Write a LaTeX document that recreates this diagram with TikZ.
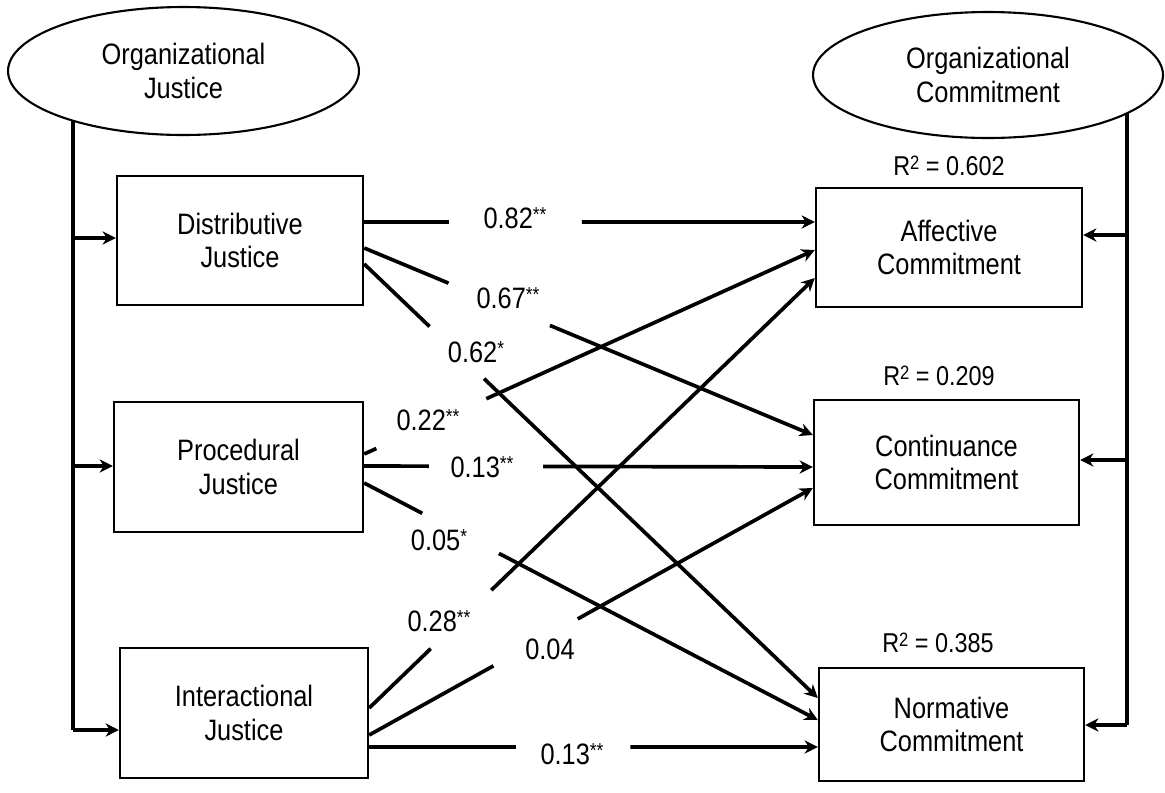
\documentclass[tikz,border=0pt]{standalone}
\usepackage{fontspec}
\setmainfont{Liberation Sans}[FakeStretch=0.86]
\usetikzlibrary{arrows.meta,calc,shapes.geometric}
% small raised marks for significance stars and the R-squared exponent
\newcommand{\signif}[1]{\raisebox{3.6pt}{\fontsize{11.5}{11.5}\selectfont #1}}
\newcommand{\rexp}[1]{\raisebox{3.2pt}{\fontsize{11}{11}\selectfont #1}}
\begin{document}
\begin{tikzpicture}[x=0.02cm,y=-0.02cm,
  every node/.style={font=\fontsize{16.8}{19.2}\selectfont},
  box/.style={draw,line width=1.4pt,rectangle,inner sep=0pt,align=center},
  latent/.style={draw,ellipse,line width=1.2pt,fill=white,inner sep=0pt,align=center},
  link/.style={line width=2.1pt},
  arrowlink/.style={line width=2.1pt,-{Stealth[length=7.5pt,width=7.5pt,inset=2.4pt]}},
  bracket/.style={line width=2.4pt},
  coef/.style={inner sep=0pt,anchor=base},
  rsq/.style={font=\fontsize{15.5}{18}\selectfont,inner sep=0pt,anchor=base}]

\useasboundingbox (0,0) rectangle (1165,792);

% dimension boxes
\node[box,minimum width=4.92cm,minimum height=2.58cm] (DJ) at (240,240.5) {Distributive\\Justice};
\node[box,minimum width=4.98cm,minimum height=2.60cm] (PJ) at (238.5,467) {Procedural\\Justice};
\node[box,minimum width=4.96cm,minimum height=2.60cm] (IJ) at (244,713) {Interactional\\Justice};
\node[box,minimum width=5.32cm,minimum height=2.38cm] (AC) at (949,247.5) {Affective\\Commitment};
\node[box,minimum width=5.30cm,minimum height=2.50cm] (CC) at (946.5,462.5) {Continuance\\Commitment};
\node[box,minimum width=5.30cm,minimum height=2.26cm] (NC) at (951.5,724.5) {Normative\\Commitment};

% left bracket from the justice construct
\coordinate (Ltop) at (73,71);
\coordinate (L1) at (73,238);
\coordinate (L2) at (73,466);
\coordinate (L3) at (73,730);
\draw[bracket] (Ltop) -- (L3);
\draw[arrowlink] (L3) -- (L3 -| IJ.west);
\draw[arrowlink] (L1) -- (L1 -| DJ.west);
\draw[arrowlink] (L2) -- (L2 -| PJ.west);

% right bracket from the commitment construct
\coordinate (Rtop) at (1127,75);
\coordinate (R1) at (1127,235);
\coordinate (R2) at (1127,460);
\coordinate (R3) at (1127,725);
\draw[bracket] (Rtop) -- (R3);
\draw[arrowlink] (R3) -- (R3 -| NC.east);
\draw[arrowlink] (R1) -- (R1 -| AC.east);
\draw[arrowlink] (R2) -- (R2 -| CC.east);

% latent constructs
\node[latent,minimum width=7.02cm,minimum height=2.56cm] (OJ) at (183.5,71) {Organizational\\Justice};
\node[latent,minimum width=7.00cm,minimum height=2.52cm] (OC) at (988,75) {Organizational\\Commitment};

% structural paths, each broken where its coefficient sits
\foreach \s/\t/\ds/\dt/\ga/\gb [count=\i] in {
  DJ/AC/-18.5/-25.5/0.188/0.483,
  DJ/CC/7.5/-27.5/0.188/0.414,
  DJ/NC/23.5/-26.5/0.144/0.264,
  PJ/AC/-13/2.5/0.027/0.271,
  PJ/CC/-1/4.5/0.144/0.399,
  PJ/NC/16/-4.5/0.128/0.297,
  IJ/AC/-5/30.5/0.138/0.274,
  IJ/CC/22/25.5/0.28/0.47,
  IJ/NC/34/22.5/0.327/0.582}
{
  \coordinate (p\i-a) at ($(\s.east)+(0,\ds)$);
  \coordinate (p\i-b) at ($(\t.west)+(0,\dt)$);
  \draw[link] (p\i-a) -- ($(p\i-a)!\ga!(p\i-b)$);
  \draw[arrowlink] ($(p\i-a)!\gb!(p\i-b)$) -- (p\i-b);
}

% path coefficients
\node[coef] (c1) at (515,228) {0.82\signif{**}};
\node[coef] (c2) at (508,308) {0.67\signif{**}};
\node[coef] (c3) at (476,362) {0.62\signif{*}};
\node[coef] (c4) at (428,430) {0.22\signif{**}};
\node[coef] (c5) at (482,477) {0.13\signif{**}};
\node[coef] (c6) at (439,550) {0.05\signif{*}};
\node[coef] (c7) at (439,631) {0.28\signif{**}};
\node[coef] (c8) at (550,659) {0.04};
\node[coef] (c9) at (572,764) {0.13\signif{**}};

% explained variance
\node[rsq] (r1) at (949,175) {R\rexp{2} = 0.602};
\node[rsq] (r2) at (939,385) {R\rexp{2} = 0.209};
\node[rsq] (r3) at (938,652) {R\rexp{2} = 0.385};
\end{tikzpicture}
\end{document}
